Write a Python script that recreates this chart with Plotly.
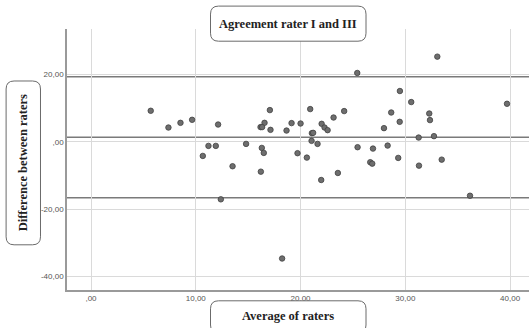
import plotly.graph_objects as go

# Bland-Altman data: average of the two raters vs. their difference
avg_raters = [5.70, 7.39, 8.54, 9.65, 12.13, 11.21, 11.91, 10.67, 13.51, 12.39,
              25.41, 17.07, 20.92, 24.16, 23.15, 16.56, 16.18, 16.33, 17.13, 19.14,
              20.00, 18.66, 22.01, 22.29, 22.58, 21.08, 21.20, 21.05, 21.62, 14.80,
              16.30, 16.49, 19.71, 20.60, 25.44, 26.91, 26.65, 26.84, 16.21, 21.97,
              23.56, 18.24, 33.05, 29.48, 30.56, 39.70, 28.65, 32.28, 32.35, 29.46,
              27.96, 31.27, 32.73, 28.31, 29.32, 33.47, 31.30, 36.17]
diff_raters = [9.23, 4.26, 5.65, 6.55, 5.15, -1.19, -1.19, -4.17, -7.23, -17.05,
               20.45, 9.43, 9.73, 9.14, 7.23, 5.65, 4.38, 4.38, 3.57, 5.57,
               5.45, 3.36, 5.36, 4.26, 3.48, 2.59, 2.68, 0.30, -0.60, -0.60,
               -1.79, -3.27, -3.36, -4.67, -1.58, -1.99, -6.04, -6.46, -8.84, -11.31,
               -9.23, -34.61, 25.30, 15.09, 11.82, 11.31, 8.72, 8.42, 6.46, 5.95,
               4.08, 1.28, 1.70, -1.10, -4.76, -5.27, -7.05, -15.98]

# Mean difference and limits of agreement
ref_lines = [19.3, 1.35, -16.6]

x_ticks = [0, 10, 20, 30, 40]
x_tick_labels = [",00", "10,00", "20,00", "30,00", "40,00"]
y_ticks = [-40, -20, 0, 20]
y_tick_labels = ["-40,00", "-20,00", ",00", "20,00"]

W, H = 529, 328
ML, MR, MT, MB = 67, 0, 29, 38
PW, PH = W - ML - MR, H - MT - MB

fig = go.Figure()
fig.add_trace(go.Scatter(
    x=avg_raters, y=diff_raters, mode="markers",
    marker=dict(size=5.5, color="#6e6e6e", line=dict(color="#404040", width=0.8)),
    showlegend=False, hoverinfo="x+y",
))

axis_common = dict(
    showline=True, linecolor="#9a9a9a", linewidth=1.5, mirror=False,
    showgrid=True, gridcolor="#dadada", gridwidth=1.2, zeroline=False,
    ticks="", tickfont=dict(family="Liberation Sans, Arial", size=8, color="#555555"),
)

fig.update_xaxes(range=[-2.29, 41.8], tickvals=x_ticks, ticktext=x_tick_labels, **axis_common)
fig.update_yaxes(range=[-43.96, 33.5], tickvals=y_ticks, ticktext=y_tick_labels, **axis_common)


def px_to_paper(px, py):
    return (px - ML) / PW, (H - MB - py) / PH


def rounded_box(x0, y0, x1, y1, r=8):
    """Rounded rectangle path, given in pixel coordinates, mapped to paper units."""
    pts = []
    def P(cmd, *coords):
        out = []
        for i in range(0, len(coords), 2):
            a, b = px_to_paper(coords[i], coords[i + 1])
            out.append(f"{a:.5f},{b:.5f}")
        pts.append(cmd + " " + " ".join(out))
    P("M", x0 + r, y0)
    P("L", x1 - r, y0)
    P("Q", x1, y0, x1, y0 + r)
    P("L", x1, y1 - r)
    P("Q", x1, y1, x1 - r, y1)
    P("L", x0 + r, y1)
    P("Q", x0, y1, x0, y1 - r)
    P("L", x0, y0 + r)
    P("Q", x0, y0, x0 + r, y0)
    return " ".join(pts) + " Z"


# Horizontal reference lines (mean and limits of agreement)
for v in ref_lines:
    fig.add_shape(type="line", xref="paper", x0=0, x1=1, yref="y", y0=v, y1=v,
                  line=dict(color="#7a7a7a", width=1.5), layer="below")

boxes = [
    (210.5, 6.1, 366.0, 41.2),    # chart title
    (210.5, 300.8, 366.0, 333.0),  # x-axis title
    (6.1, 81.0, 40.5, 244.8),      # y-axis title
]
for b in boxes:
    fig.add_shape(type="path", xref="paper", yref="paper", path=rounded_box(*b),
                  line=dict(color="#6b6b6b", width=1), fillcolor="white", layer="above")

title_font = dict(family="Liberation Serif, Times New Roman, serif", size=12.5, color="#222222")
for text, (cx, cy), angle in [
    ("<b>Agreement rater I and III</b>", (288.3, 24.0), 0),
    ("<b>Average of raters</b>", (288.3, 316.0), 0),
    ("<b>Difference between raters</b>", (23.3, 163.0), -90),
]:
    ax_, ay_ = px_to_paper(cx, cy)
    fig.add_annotation(text=text, x=ax_, y=ay_, xref="paper", yref="paper",
                       showarrow=False, xanchor="center", yanchor="middle",
                       textangle=angle, font=title_font)

fig.update_layout(
    width=W, height=H,
    margin=dict(l=ML, r=MR, t=MT, b=MB, pad=0),
    plot_bgcolor="white", paper_bgcolor="white",
)

fig.write_html("out.html")
